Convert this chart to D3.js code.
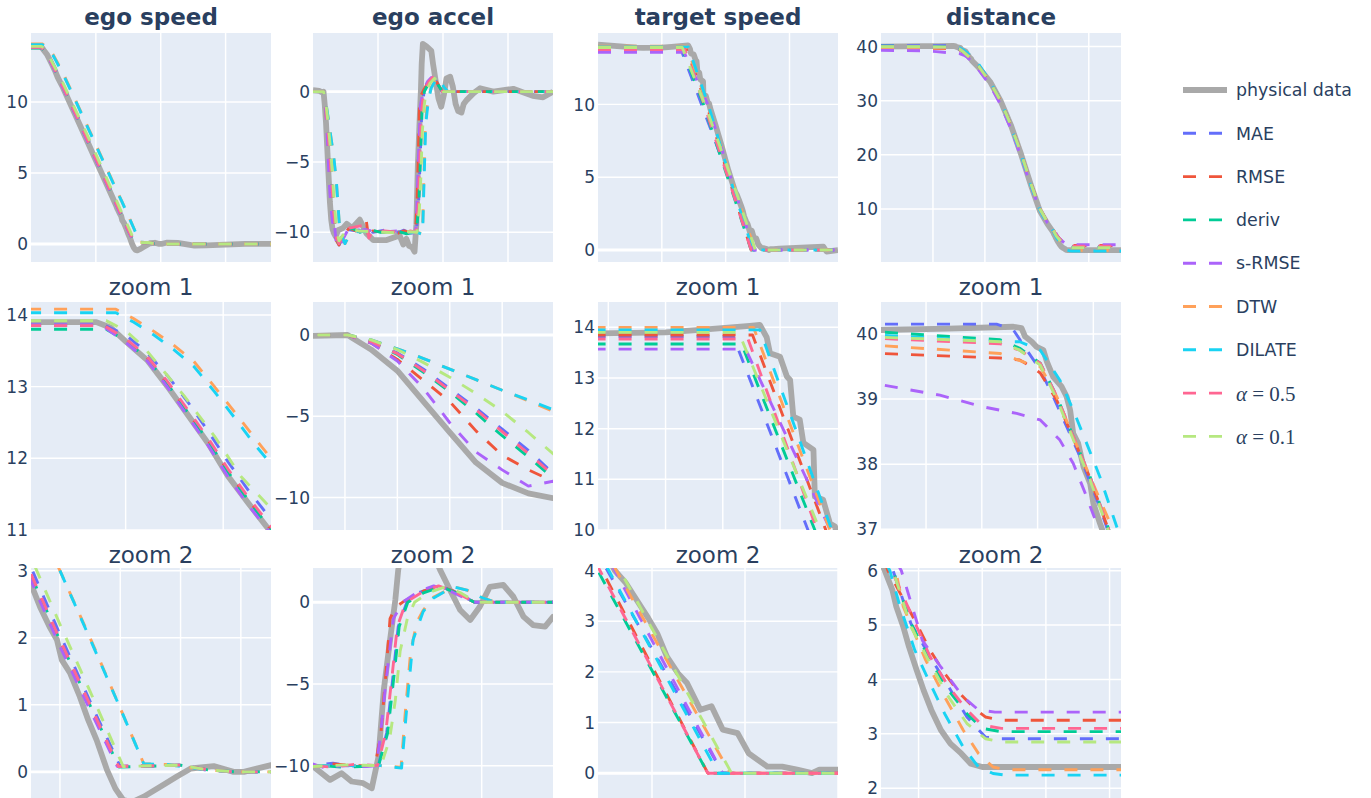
<!DOCTYPE html>
<html>
<head>
<meta charset="utf-8">
<script src="https://cdn.jsdelivr.net/npm/d3@7"></script>
<style>
  body { margin: 0; background: #fff; }
  text { font-family: "DejaVu Sans", Verdana, sans-serif; fill: #2a3f5f; }
</style>
</head>
<body>
<div class="canvas"></div>
<script>
// ---- series ----
const seriesNames = ["physical data", "MAE", "RMSE", "deriv", "s-RMSE", "DTW", "DILATE", "α = 0.5", "α = 0.1"];
const seriesColors = ["#a9a9a9", "#636efa", "#EF553B", "#00cc96", "#ab63fa", "#FFA15A", "#19d3f3", "#FF6692", "#B6E880"];

const colTitles = ["ego speed", "ego accel", "target speed", "distance"];
const rowTitles = [null, "zoom 1", "zoom 2"];

// [t, value] per series, same order as seriesNames
const egoSpeed = [
  [[0,13.9],[0.7,13.9],[0.85,13.82],[1.0,13.63],[1.22,13.37],[1.43,13.0],[1.64,12.6],[1.85,12.2],[2.05,11.75],[2.26,11.37],[2.46,11.02],[3.5,8.92],[4.5,6.9],[5.5,4.88],[6.52,2.8],[6.67,2.46],[6.83,2.16],[6.95,1.97],[7.03,1.67],[7.17,1.47],[7.33,1.12],[7.47,0.77],[7.61,0.47],[7.78,0.03],[7.92,-0.25],[8.05,-0.42],[8.2,-0.45],[8.39,-0.37],[8.67,-0.22],[8.94,-0.07],[9.17,0.05],[9.55,0.085],[9.88,0.0],[10.05,0.0],[10.5,0.1],[11.3,0.08],[12.6,-0.12],[13.5,-0.1],[15,-0.05],[16.5,0],[18.5,0]],
  [[0,13.86],[0.78,13.86],[1.0,13.72],[1.2,13.5],[1.43,13.15],[1.64,12.78],[1.85,12.37],[2.05,11.95],[2.26,11.55],[2.49,11.15],[3.5,9.2],[4.5,7.2],[5.5,5.1],[6.52,3.05],[7.0,2.05],[7.5,1.05],[8.0,0.08],[9.0,0.1],[9.45,0.03],[9.9,0],[18.5,0]],
  [[0,13.85],[0.78,13.85],[1.0,13.66],[1.22,13.4],[1.43,13.04],[1.64,12.64],[1.85,12.24],[2.05,11.82],[2.26,11.42],[2.49,11.0],[3.5,9.0],[4.5,7.0],[5.5,4.95],[6.52,2.92],[7.0,1.95],[7.5,0.98],[7.97,0.08],[9.0,0.1],[9.45,0.03],[9.9,0],[18.5,0]],
  [[0,13.8],[0.8,13.8],[1.0,13.64],[1.22,13.39],[1.43,13.03],[1.64,12.63],[1.85,12.23],[2.05,11.81],[2.26,11.41],[2.49,11.0],[3.5,9.0],[4.5,7.0],[5.5,4.96],[6.52,2.93],[7.0,1.96],[7.5,0.99],[7.98,0.07],[9.0,0.1],[9.45,0.03],[9.9,0],[18.5,0]],
  [[0,13.86],[0.75,13.86],[1.0,13.62],[1.22,13.36],[1.43,12.99],[1.64,12.58],[1.85,12.17],[2.05,11.74],[2.26,11.34],[2.49,10.95],[3.5,8.95],[4.5,6.93],[5.5,4.9],[6.52,2.85],[7.0,1.87],[7.5,0.92],[7.95,0.08],[9.0,0.1],[9.45,0.02],[9.9,0],[18.5,0]],
  [[0,14.08],[0.9,14.08],[1.08,13.95],[1.29,13.77],[1.49,13.58],[1.7,13.35],[1.91,13.0],[2.12,12.64],[2.33,12.27],[2.49,12.0],[3.5,10.0],[4.5,8.0],[5.5,6.0],[6.5,4.0],[7.0,3.0],[7.5,2.0],[8.0,0.95],[8.39,0.12],[8.78,0.11],[9.43,0.03],[9.9,0],[18.5,0]],
  [[0,14.03],[0.9,14.03],[1.08,13.9],[1.29,13.72],[1.49,13.52],[1.7,13.28],[1.91,12.93],[2.12,12.56],[2.33,12.18],[2.49,11.92],[3.5,9.95],[4.5,7.95],[5.5,5.95],[6.5,3.95],[7.0,3.0],[7.5,1.98],[8.0,0.95],[8.39,0.12],[8.78,0.11],[9.43,0.03],[9.9,0],[18.5,0]],
  [[0,13.85],[0.78,13.85],[1.0,13.67],[1.22,13.42],[1.43,13.07],[1.64,12.67],[1.85,12.27],[2.05,11.85],[2.26,11.45],[2.49,11.05],[3.5,9.05],[4.5,7.05],[5.5,5.0],[6.52,2.95],[7.0,1.97],[7.5,1.0],[7.97,0.08],[9.0,0.1],[9.45,0.03],[9.9,0],[18.5,0]],
  [[0,13.92],[0.8,13.92],[1.0,13.78],[1.18,13.56],[1.4,13.2],[1.6,12.87],[1.91,12.31],[2.18,11.75],[2.49,11.3],[3.5,9.3],[4.5,7.35],[5.5,5.3],[6.52,3.2],[7.0,2.2],[7.5,1.2],[8.05,0.08],[9.0,0.1],[9.45,0.03],[9.9,0],[18.5,0]]
];

const egoAccel = [
  [[0,0.1],[0.5,0.05],[0.68,-0.05],[0.81,0],[0.9,-0.9],[1.0,-2.2],[1.1,-4.1],[1.2,-6.0],[1.3,-7.85],[1.4,-9.1],[1.5,-9.75],[1.594,-10.04],[1.75,-10.3],[1.92,-9.85],[2.3,-9.7],[2.59,-9.4],[3.0,-9.7],[3.6,-9.1],[4.1,-10.07],[4.64,-10.55],[5.67,-10.55],[6.44,-10.3],[6.59,-10.05],[6.94,-10.87],[7.18,-10.46],[7.39,-10.97],[7.63,-11.07],[7.81,-11.38],[7.95,-9.44],[8.06,-5.36],[8.19,-2.3],[8.3,0.14],[8.36,1.98],[8.45,3.4],[8.75,3.2],[9.1,2.9],[9.23,2.0],[9.44,0.75],[9.65,-0.47],[9.86,-1.08],[10.06,-0.27],[10.27,0.95],[10.55,1.06],[10.76,0.34],[10.97,-0.88],[11.17,-1.39],[11.42,-1.49],[11.59,-0.88],[11.82,-0.6],[12.33,-0.12],[12.85,0.24],[13.87,0],[15.4,0.2],[16.9,-0.3],[17.7,-0.4],[18.46,0]],
  [[0,0],[0.81,0],[0.9,-0.4],[1.0,-1.1],[1.1,-2.1],[1.2,-3.3],[1.3,-4.5],[1.4,-5.8],[1.5,-7.1],[1.594,-8.5],[1.8,-10.5],[2.0,-10.9],[2.3,-10.4],[2.7,-9.8],[3.3,-9.9],[4.0,-9.7],[4.6,-10.0],[5.5,-9.85],[6.59,-10.0],[7.0,-9.85],[7.5,-10.05],[7.95,-9.95],[8.12,-8.0],[8.26,-4.3],[8.36,-1.5],[8.54,0],[8.8,0.6],[9.2,1.0],[9.5,0.7],[9.95,0],[18.46,0]],
  [[0,0],[0.81,0],[0.9,-0.5],[1.0,-1.5],[1.1,-2.8],[1.2,-4.1],[1.3,-5.9],[1.4,-7.4],[1.5,-8.3],[1.594,-9.0],[1.8,-10.6],[2.0,-10.9],[2.3,-10.2],[2.8,-9.7],[3.3,-9.9],[3.9,-9.5],[4.1,-9.2],[4.3,-10.5],[4.6,-9.9],[5.5,-10.0],[6.59,-10.05],[7.0,-9.9],[7.5,-10.0],[7.88,-10.0],[8.0,-8.0],[8.1,-4.5],[8.19,-1.0],[8.3,-0.3],[8.5,0.1],[8.9,0.7],[9.2,1.0],[9.5,0.7],[9.95,0],[18.46,0]],
  [[0,0],[0.81,0],[0.9,-0.4],[1.0,-1.2],[1.1,-2.3],[1.2,-3.5],[1.3,-4.8],[1.4,-6.2],[1.5,-7.5],[1.594,-8.8],[1.8,-10.5],[2.0,-10.8],[2.4,-10.1],[3.0,-9.7],[3.6,-10.0],[4.3,-9.8],[5.2,-10.0],[6.59,-9.95],[7.2,-10.1],[7.95,-10.0],[8.14,-8.0],[8.28,-4.3],[8.38,-1.5],[8.56,0],[8.9,0.6],[9.25,0.95],[9.55,0.6],[9.95,0],[18.46,0]],
  [[0,0],[0.81,0],[0.9,-0.5],[1.0,-1.6],[1.1,-3.3],[1.2,-5.4],[1.3,-7.2],[1.4,-8.3],[1.5,-9.3],[1.594,-9.0],[1.8,-10.8],[2.0,-11.1],[2.3,-10.5],[2.7,-9.8],[3.3,-10.0],[4.0,-9.8],[5.0,-10.0],[6.59,-9.9],[6.8,-10.1],[7.2,-10.0],[7.7,-10.05],[7.9,-10.0],[7.98,-8.4],[8.1,-5.0],[8.26,-1.0],[8.47,0.05],[8.8,0.7],[9.1,1.0],[9.4,0.75],[9.92,0],[18.46,0]],
  [[0,0],[0.81,0],[0.9,-0.3],[1.0,-0.85],[1.1,-1.45],[1.2,-2.1],[1.3,-2.75],[1.4,-3.4],[1.5,-4.05],[1.594,-4.7],[1.8,-6.5],[2.07,-10.0],[2.46,-10.8],[2.8,-10.2],[3.5,-9.9],[4.5,-10.0],[5.5,-9.95],[6.59,-10.0],[7.5,-10.0],[8.0,-10.0],[8.42,-10.1],[8.5,-7.0],[8.62,-3.0],[8.75,-1.2],[8.88,-0.5],[9.09,0.3],[9.51,0.95],[9.79,0.75],[10.06,0.34],[10.35,0.04],[10.6,0],[18.46,0]],
  [[0,0],[0.81,0],[0.9,-0.3],[1.0,-0.85],[1.1,-1.45],[1.2,-2.1],[1.3,-2.75],[1.4,-3.4],[1.5,-4.0],[1.594,-4.6],[1.8,-6.4],[2.07,-10.0],[2.46,-10.8],[2.8,-10.2],[3.5,-9.9],[4.5,-10.0],[5.5,-9.95],[6.59,-10.0],[7.5,-10.0],[8.0,-10.0],[8.43,-10.15],[8.54,-6.4],[8.67,-2.3],[8.88,-0.57],[9.09,0.25],[9.51,0.95],[9.79,0.75],[10.06,0.34],[10.35,0.04],[10.6,0],[18.46,0]],
  [[0,0],[0.81,0],[0.9,-0.4],[1.0,-1.15],[1.1,-2.2],[1.2,-3.4],[1.3,-4.6],[1.4,-5.95],[1.5,-7.3],[1.594,-8.6],[1.8,-10.4],[2.0,-10.8],[2.3,-10.2],[2.8,-9.7],[3.9,-9.5],[4.1,-9.3],[4.3,-10.4],[4.6,-9.9],[5.5,-9.9],[6.59,-10.0],[7.0,-10.1],[7.5,-9.9],[7.93,-10.0],[8.1,-8.0],[8.24,-4.3],[8.34,-1.5],[8.52,0],[8.9,0.7],[9.2,1.0],[9.5,0.7],[9.95,0],[18.46,0]],
  [[0,0],[0.81,0],[0.9,-0.3],[1.0,-0.9],[1.1,-1.7],[1.2,-2.6],[1.3,-3.6],[1.4,-4.7],[1.5,-6.0],[1.594,-7.3],[1.8,-9.8],[2.0,-10.6],[2.3,-10.2],[2.8,-9.8],[3.5,-9.9],[4.5,-9.95],[5.5,-10.0],[6.59,-10.05],[7.3,-9.95],[8.0,-10.0],[8.18,-8.4],[8.3,-6.0],[8.4,-3.0],[8.55,-1.0],[8.7,0],[9.0,0.6],[9.35,0.95],[9.65,0.6],[10.0,0],[18.46,0]]
];

const targetSpeed = [
  [[0,14.1],[1.5,14.0],[3.0,13.9],[3.525,13.88],[5.0,13.9],[5.75,13.95],[6.84,14.03],[7.06,14.05],[7.21,13.8],[7.28,13.49],[7.5,13.42],[7.65,13.03],[7.72,12.96],[7.79,12.24],[7.93,12.18],[8.01,11.72],[8.23,11.58],[8.26,10.66],[8.44,10.6],[8.59,10.13],[8.7,10.07],[8.8,9.7],[9.2,8.6],[9.7,7.1],[10.2,5.5],[10.75,4.0],[10.9,3.75],[11.07,3.36],[11.2,3.06],[11.32,2.76],[11.45,2.3],[11.6,1.97],[11.72,1.78],[11.9,1.25],[12.05,1.32],[12.2,0.86],[12.4,0.79],[12.55,0.39],[12.8,0.13],[13.0,0.13],[13.2,0.07],[13.4,0],[13.5,0.07],[13.75,0.07],[14.2,0.1],[17.65,0.23],[17.9,-0.1],[18.8,0]],
  [[0,13.82],[6.48,13.82],[8.11,10.0],[10.65,4.0],[12.2,0],[18.8,0]],
  [[0,13.85],[6.9,13.85],[8.5,10.0],[10.58,4.0],[12.0,0],[18.8,0]],
  [[0,13.67],[6.66,13.67],[8.26,10.0],[10.52,4.0],[12.0,0],[18.8,0]],
  [[0,13.57],[6.75,13.57],[8.6,10.0],[10.75,4.0],[12.2,0],[18.8,0]],
  [[0,14.0],[6.92,14.0],[8.59,10.0],[10.77,4.0],[12.3,0],[18.8,0]],
  [[0,13.95],[7.06,13.95],[8.63,10.0],[10.67,4.0],[12.14,0],[18.8,0]],
  [[0,13.77],[6.8,13.77],[8.31,10.0],[10.55,4.0],[12.0,0],[18.8,0]],
  [[0,13.9],[6.6,13.9],[8.37,10.0],[10.82,4.0],[12.32,0],[18.8,0]]
];

const distance = [
  [[0,40.0],[2.0,40.02],[3.99,40.06],[5.5,40.08],[6.96,40.11],[7.14,40.09],[7.22,39.96],[7.37,39.88],[7.48,39.8],[7.63,39.75],[7.71,39.57],[7.85,39.34],[8.04,39.19],[8.15,39.04],[8.23,38.83],[8.3,38.47],[8.41,38.32],[8.53,37.96],[8.68,37.7],[8.75,37.4],[8.9,37.09],[9.37,36.2],[10.5,33.5],[11.5,30.0],[12.5,25.5],[13.5,20.0],[14.5,14.0],[15.3,9.6],[16.0,7.3],[16.47,6.0],[16.59,5.64],[16.65,5.34],[16.76,4.97],[16.85,4.6],[16.97,4.17],[17.08,3.8],[17.2,3.44],[17.35,3.07],[17.5,2.82],[17.67,2.64],[17.82,2.45],[18.0,2.39],[23.1,2.39]],
  [[0,40.15],[6.58,40.15],[6.96,40.06],[7.26,39.75],[7.56,39.45],[7.85,39.04],[8.15,38.58],[8.45,38.12],[8.75,37.6],[8.97,37.19],[9.37,36.4],[10.5,33.4],[11.5,30.0],[12.5,25.5],[13.5,20.2],[14.5,14.3],[15.3,10.0],[16.0,7.6],[16.6,6.0],[16.88,5.03],[17.18,4.42],[17.47,3.87],[17.76,3.31],[18.05,2.94],[18.3,2.91],[23.1,2.91]],
  [[0,39.7],[3.99,39.7],[6.66,39.63],[7.1,39.6],[7.35,39.5],[7.56,39.4],[7.93,38.98],[8.3,38.4],[8.68,37.78],[9.05,37.07],[9.37,36.4],[10.5,33.4],[11.5,30.0],[12.5,25.5],[13.5,20.2],[14.5,14.3],[15.3,10.0],[16.0,7.6],[16.52,6.0],[16.94,5.09],[17.18,4.54],[17.41,4.11],[17.65,3.74],[17.88,3.47],[18.05,3.31],[18.3,3.25],[23.1,3.25]],
  [[0,40.05],[3.99,40.03],[6.66,39.91],[7.1,39.78],[7.56,39.55],[7.93,39.04],[8.3,38.42],[8.68,37.8],[9.05,37.09],[9.37,36.45],[10.5,33.4],[11.5,30.0],[12.5,25.5],[13.5,20.2],[14.5,14.3],[15.3,10.0],[16.0,7.6],[16.6,6.0],[16.88,5.03],[17.18,4.36],[17.47,3.8],[17.76,3.37],[18.0,3.1],[18.3,3.04],[23.1,3.04]],
  [[0,39.3],[3.99,39.22],[5.31,39.06],[6.28,38.88],[7.03,38.78],[7.56,38.68],[8.0,38.37],[8.3,38.01],[8.6,37.5],[8.86,37.02],[9.37,35.8],[10.5,32.8],[11.5,29.3],[12.5,24.8],[13.5,19.5],[14.5,13.8],[15.3,9.8],[16.0,7.5],[16.73,6.0],[17.06,4.72],[17.35,4.23],[17.7,3.68],[17.94,3.44],[18.2,3.4],[23.1,3.4]],
  [[0,39.82],[3.99,39.82],[6.66,39.7],[7.26,39.55],[7.56,39.5],[7.93,39.04],[8.3,38.42],[8.68,37.8],[9.13,37.09],[9.37,36.6],[10.5,33.5],[11.5,30.0],[12.5,25.5],[13.5,20.2],[14.5,14.3],[15.3,10.0],[16.0,7.6],[16.64,6.0],[16.76,5.34],[17.11,4.36],[17.41,3.68],[17.7,3.07],[17.94,2.64],[18.17,2.39],[18.38,2.34],[23.1,2.34]],
  [[0,39.98],[3.99,39.98],[6.66,39.88],[7.1,39.88],[7.56,39.75],[8.0,39.29],[8.3,38.83],[8.6,38.32],[8.9,37.8],[9.2,37.19],[9.37,36.85],[10.5,33.6],[11.5,30.0],[12.5,25.3],[13.5,19.8],[14.5,13.9],[15.3,9.7],[16.0,7.2],[16.55,6.0],[16.59,5.83],[16.71,5.34],[16.94,4.54],[17.18,3.93],[17.41,3.37],[17.7,2.76],[17.94,2.39],[18.17,2.27],[18.38,2.24],[23.1,2.24]],
  [[0,39.93],[3.99,39.93],[6.66,39.85],[7.1,39.75],[7.56,39.55],[7.93,39.04],[8.3,38.42],[8.68,37.8],[9.05,37.09],[9.37,36.45],[10.5,33.4],[11.5,30.0],[12.5,25.5],[13.5,20.2],[14.5,14.3],[15.3,10.0],[16.0,7.6],[16.58,6.0],[17.18,4.42],[17.47,3.87],[17.76,3.44],[18.0,3.16],[18.3,3.1],[23.1,3.1]],
  [[0,39.95],[3.99,39.95],[6.66,39.88],[7.1,39.75],[7.56,39.52],[7.93,39.0],[8.3,38.38],[8.68,37.75],[9.05,37.05],[9.37,36.4],[10.5,33.4],[11.5,30.0],[12.5,25.5],[13.5,20.2],[14.5,14.3],[15.3,10.0],[16.0,7.6],[16.6,6.0],[16.88,4.97],[17.18,4.3],[17.47,3.68],[17.76,3.19],[18.05,2.91],[18.3,2.85],[23.1,2.85]]
];

const columnData = [egoSpeed, egoAccel, targetSpeed, distance];

// visible windows per row (top, zoom 1, zoom 2) and column
const xRanges = [
  [[0, 18.5], [0, 18.46], [0, 18.8], [0, 23.1]],
  [[0.03, 2.49], [0.678, 1.594], [3.525, 8.766], [3.99, 9.37]],
  [[6.52, 10.5], [6.585, 11.585], [10.524, 13.75], [16.41, 20.18]]
];
const yRanges = [
  [[-1.27, 14.86], [-12.11, 4.17], [-0.82, 14.9], [0.2, 42.5]],
  [[11, 14.18], [-12.0, 2.03], [10, 14.5], [36.99, 40.49]],
  [[-0.39, 3.04], [-11.98, 2.1], [-0.49, 4.05], [1.82, 6.05]]
];
const xTicks = [
  [[5, 10, 15], [5, 10, 15], [5, 10, 15], [5, 10, 15, 20]],
  [[1, 2], [0.8, 1.0, 1.2, 1.4], [3.75, 5, 6.25, 7.5], [5, 6.25, 7.5, 8.75]],
  [[7, 8, 9, 10], [7.6, 10.1], [11.25, 12.5, 13.75], [17, 18, 19, 20]]
];
const yTicks = [
  [[0, 5, 10], [-10, -5, 0], [0, 5, 10], [10, 20, 30, 40]],
  [[11, 12, 13, 14], [-10, -5, 0], [10, 11, 12, 13, 14], [37, 38, 39, 40]],
  [[0, 1, 2, 3], [-10, -5, 0], [0, 1, 2, 3, 4], [2, 3, 4, 5, 6]]
];

// ---- layout ----
const colX = [31, 313, 598, 881];
const plotW = 240;
const rowY = [33, 302, 568];
const rowH = [229, 228, 230];
const titleBase = [25, 295, 563];

var svg = d3.select(".canvas")
  .append("svg")
  .attr("width", 1371)
  .attr("height", 798);

const fmt = v => v < 0 ? "\u2212" + Math.abs(v) : String(v);

rowY.forEach(function(top, r) {
  colX.forEach(function(left, c) {
    var h = rowH[r];
    var x = d3.scaleLinear().domain(xRanges[r][c]).range([0, plotW]);
    var y = d3.scaleLinear().domain(yRanges[r][c]).range([h, 0]);
    var g = svg.append("g").attr("transform", "translate(" + left + "," + top + ")");

    g.append("rect")
      .attr("width", plotW).attr("height", h)
      .attr("fill", "#E5ECF6");

    g.selectAll(".vgrid")
      .data(xTicks[r][c])
      .enter().append("line")
      .attr("x1", d => x(d)).attr("x2", d => x(d))
      .attr("y1", 0).attr("y2", h)
      .attr("stroke", "#fff").attr("stroke-width", 1.45);

    g.selectAll(".hgrid")
      .data(yTicks[r][c])
      .enter().append("line")
      .attr("x1", 0).attr("x2", plotW)
      .attr("y1", d => y(d)).attr("y2", d => y(d))
      .attr("stroke", "#fff")
      .attr("stroke-width", d => d === 0 ? 2.9 : 1.45);

    var clipId = "clip-" + r + "-" + c;
    g.append("clipPath").attr("id", clipId)
      .append("rect").attr("width", plotW).attr("height", h);

    var line = d3.line().x(d => x(d[0])).y(d => y(d[1]));

    var traces = g.append("g").attr("clip-path", "url(#" + clipId + ")");
    columnData[c].forEach(function(pts, i) {
      traces.append("path")
        .attr("d", line(pts))
        .attr("fill", "none")
        .attr("stroke", seriesColors[i])
        .attr("stroke-width", i === 0 ? 5.8 : 2.9)
        .attr("stroke-dasharray", i === 0 ? null : "13,13")
        .attr("stroke-linejoin", "round");
    });

    g.selectAll(".ytick")
      .data(yTicks[r][c])
      .enter().append("text")
      .attr("x", -3)
      .attr("y", d => y(d))
      .attr("dy", "0.36em")
      .attr("text-anchor", "end")
      .style("font-size", "17px")
      .text(fmt);

    svg.append("text")
      .attr("x", left + plotW / 2)
      .attr("y", titleBase[r])
      .attr("text-anchor", "middle")
      .style("font-size", "23px")
      .style("font-weight", r === 0 ? "bold" : "normal")
      .text(r === 0 ? colTitles[c] : rowTitles[r]);
  });
});

// ---- legend ----
var legend = svg.append("g").attr("transform", "translate(1183,90)");
seriesNames.forEach(function(name, i) {
  var item = legend.append("g").attr("transform", "translate(0," + (i * 43.3) + ")");
  item.append("line")
    .attr("x1", 0).attr("x2", 44)
    .attr("stroke", seriesColors[i])
    .attr("stroke-width", i === 0 ? 5.8 : 2.9)
    .attr("stroke-dasharray", i === 0 ? null : "13,13");
  if (name.startsWith("α")) {
    var t = item.append("text")
      .attr("x", 53).attr("dy", "0.38em")
      .style("font-family", "'Liberation Serif', 'DejaVu Serif', serif")
      .style("font-size", "21px");
    t.append("tspan").style("font-style", "italic").text("α");
    t.append("tspan").text(name.slice(1));
  } else {
    item.append("text")
      .attr("x", 53).attr("dy", "0.36em")
      .style("font-size", "17.4px")
      .text(name);
  }
});
</script>
</body>
</html>
